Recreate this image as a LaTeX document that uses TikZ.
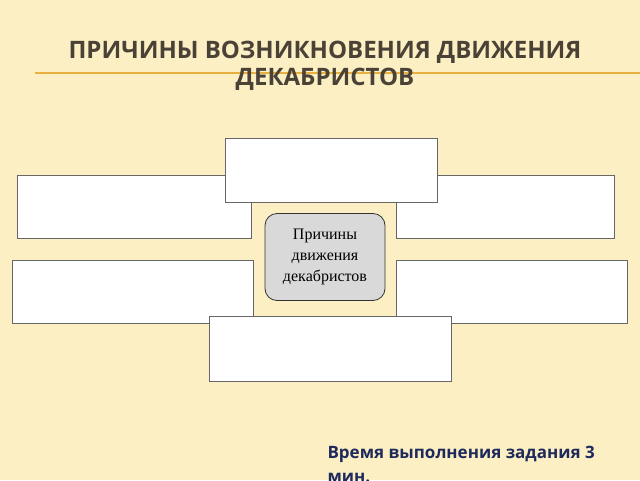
\documentclass[tikz,border=0pt]{standalone}
\usepackage{fontspec}
\setmainfont{Liberation Serif}
\newfontfamily\titlefont{Open Sans}
\definecolor{paper}{HTML}{FCEFC4}
\definecolor{titlebrown}{HTML}{4A4236}
\definecolor{rule}{HTML}{E8B040}
\definecolor{navy}{HTML}{1F2A5C}
\begin{document}
\begin{tikzpicture}[x=1pt,y=-1pt,
	cause box/.style={draw=black!60, fill=white, line width=0.8pt},
	center box/.style={draw=black!80, fill=black!15, rounded corners=12pt, line width=0.8pt,
		minimum width=120pt, minimum height=87pt, align=center, font=\fontsize{16}{21}\selectfont}]

	% background
	\fill[paper] (0,0) rectangle (640,480);
	\useasboundingbox (0,0) rectangle (640,480);

	% title
	\draw[rule, line width=1.2pt] (35,73) -- (640,73);
	\node[text=titlebrown, font=\titlefont\bfseries\fontsize{24}{27}\selectfont, align=center] (title) at (325,66)
		{ПРИЧИНЫ ВОЗНИКНОВЕНИЯ ДВИЖЕНИЯ\\ДЕКАБРИСТОВ};

	% side boxes
	\draw[cause box] (17,175) rectangle (251,238);
	\draw[cause box] (396,175) rectangle (614,238);
	\draw[cause box] (12,260) rectangle (253,323);
	\draw[cause box] (396,260) rectangle (627,323);
	\draw[cause box] (225,138) rectangle (437,202);
	\draw[cause box] (209,316) rectangle (451,381);

	% centre
	\node[center box] (causes) at (325,257) {Причины\\движения\\декабристов};

	% note
	\node[anchor=north west, text=navy, font=\titlefont\bfseries\fontsize{17}{24}\selectfont, align=left] (note) at (324,443)
		{Время выполнения задания 3\\мин.};
\end{tikzpicture}
\end{document}
